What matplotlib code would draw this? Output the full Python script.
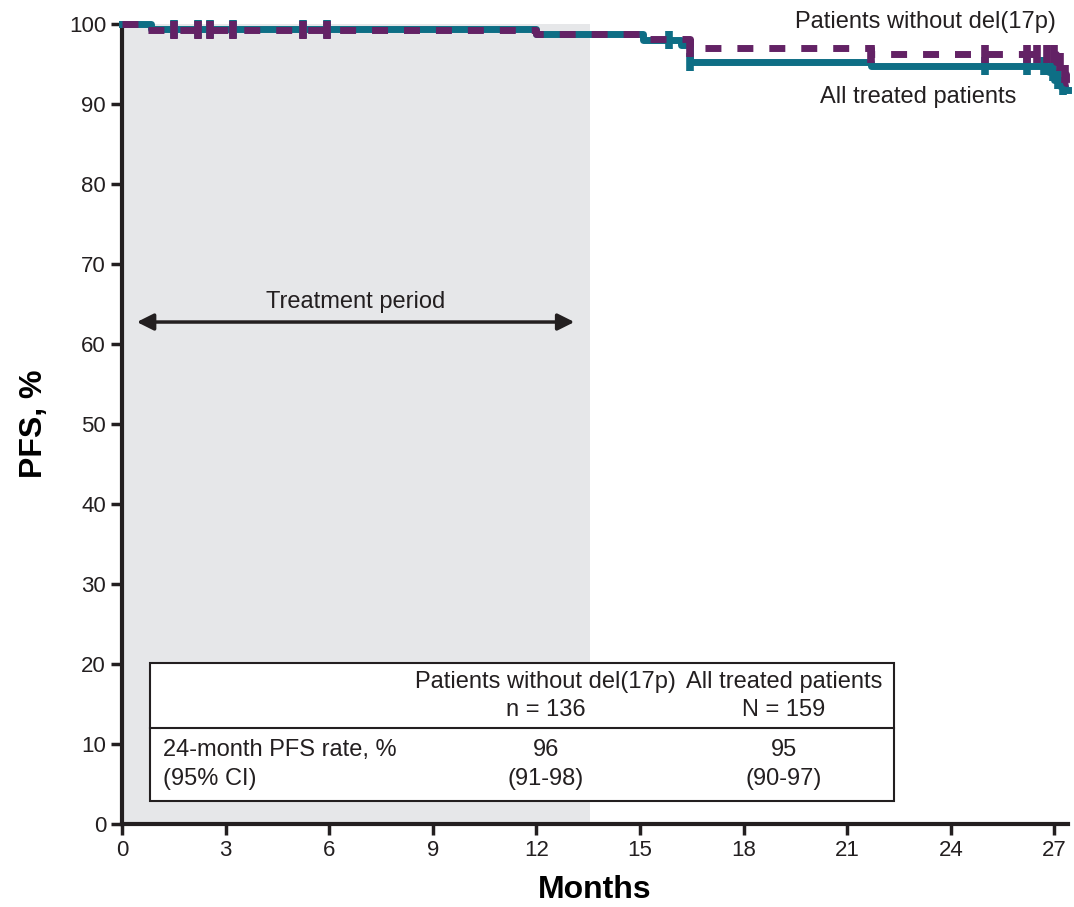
import numpy as np
import matplotlib.pyplot as plt
import matplotlib.patches as mpatches

plt.rcParams['font.family'] = ['Liberation Sans', 'DejaVu Sans']

# Kaplan-Meier step data (months, PFS %)
all_t = [0, 0.85, 12.0, 15.1, 16.2, 16.45, 21.7, 26.85, 27.0, 27.15, 27.3, 27.4]
all_s = [100, 99.35, 98.7, 98.0, 97.4, 95.3, 94.7, 94.0, 93.0, 92.3, 91.8, 91.8]
all_cens = [1.5, 2.2, 2.55, 3.2, 5.25, 5.95, 15.85, 16.45, 25.0, 26.2, 26.7, 26.95, 27.1, 27.25]

nodel_t = [0, 0.6, 12.0, 15.1, 16.45, 21.7, 27.05, 27.2, 27.35, 27.4]
nodel_s = [100, 99.3, 98.7, 98.1, 97.0, 96.3, 95.2, 93.8, 92.6, 92.6]
nodel_cens = [1.5, 2.2, 2.55, 3.2, 5.25, 5.95, 16.45, 21.7, 25.0, 26.2, 26.5, 26.8, 27.0, 27.15, 27.3]

xticks = [0, 3, 6, 9, 12, 15, 18, 21, 24, 27]
yticks = [0, 10, 20, 30, 40, 50, 60, 70, 80, 90, 100]

treat_end = 13.55

col_headers = ['Patients without del(17p)\nn = 136', 'All treated patients\nN = 159']
row_label = '24-month PFS rate, %\n(95% CI)'
row_vals = ['96\n(91-98)', '95\n(90-97)']

teal = '#0E6E85'
purple = '#632265'


def surv_at(times, surv, t):
    idx = np.searchsorted(times, t, side='right') - 1
    return np.array(surv)[idx]


fig = plt.figure(figsize=(10.74, 9.07), dpi=100)
ax = fig.add_axes([0.1136, 0.0915, 0.881, 0.882])

ax.axvspan(0, treat_end, color='#E6E7E9', zorder=0, lw=0)

ax.step(all_t, all_s, where='post', color=teal, lw=5, zorder=3, clip_on=False)
ax.plot(all_cens, surv_at(all_t, all_s, all_cens), ls='none', marker='|',
        ms=13, mew=5.5, color=teal, zorder=3, clip_on=False)
ax.step(nodel_t, nodel_s, where='post', color=purple, lw=5, zorder=4,
        ls=(0, (2.3, 2.3)), clip_on=False)
ax.plot(nodel_cens, surv_at(nodel_t, nodel_s, nodel_cens), ls='none', marker='|',
        ms=13, mew=5.5, color=purple, zorder=4, clip_on=False)

ax.set_xlim(0, 27.4)
ax.set_ylim(0, 100)
ax.set_xticks(xticks)
ax.set_yticks(yticks)
ax.tick_params(labelsize=16, length=8, width=2.5, direction='out', colors='#231F20')
for s in ['top', 'right']:
    ax.spines[s].set_visible(False)
for s in ['left', 'bottom']:
    ax.spines[s].set_linewidth(3)
    ax.spines[s].set_color('#231F20')

ax.set_xlabel('Months', fontsize=23, fontweight='bold', labelpad=10)
ax.set_ylabel('PFS, %', fontsize=23, fontweight='bold', labelpad=14)

# treatment period arrow
ax.annotate('', xy=(0.43, 62.75), xytext=(13.1, 62.75),
            arrowprops=dict(arrowstyle='<|-|>', color='#231F20', lw=2.5,
                            mutation_scale=25, shrinkA=0, shrinkB=0))
ax.text(6.76, 65.25, 'Treatment period', ha='center', va='center', fontsize=17, color='#231F20')

# curve labels
ax.text(23.26, 100.25, 'Patients without del(17p)', ha='center', va='center', fontsize=17,
        color='#231F20', clip_on=False)
ax.text(23.06, 90.9, 'All treated patients', ha='center', va='center', fontsize=17,
        color='#231F20')

# summary table
box = mpatches.Rectangle((0.81, 2.9), 22.36 - 0.81, 20.1 - 2.9, facecolor='white',
                         edgecolor='#231F20', lw=1.5, zorder=5)
ax.add_patch(box)
ax.plot([0.81, 22.36], [12.0, 12.0], color='#231F20', lw=1.5, zorder=6)
col_x = [12.27, 19.17]
for cx, h, v in zip(col_x, col_headers, row_vals):
    ax.text(cx, 16.0, h, ha='center', va='center', fontsize=17, color='#231F20',
            zorder=7, linespacing=1.4)
    ax.text(cx, 7.4, v, ha='center', va='center', fontsize=17, color='#231F20',
            zorder=7, linespacing=1.4)
ax.text(1.2, 7.4, row_label, ha='left', va='center', fontsize=17, color='#231F20',
        zorder=7, linespacing=1.4)

fig.savefig('out.png', dpi=100)
